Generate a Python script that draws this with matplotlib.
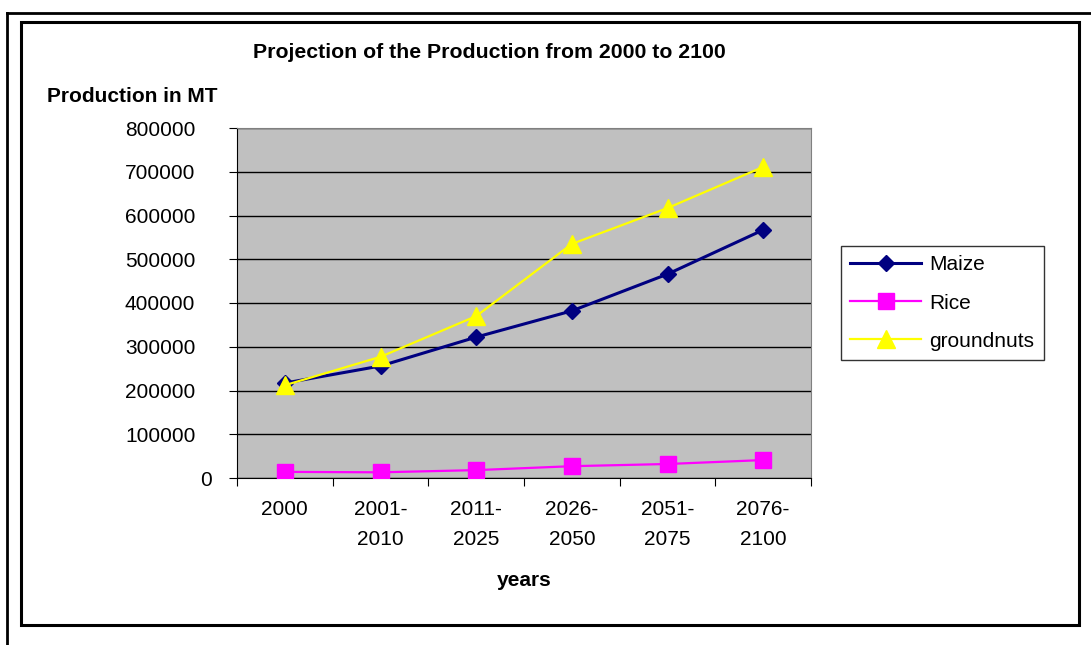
import matplotlib.pyplot as plt
import matplotlib.transforms as mtransforms
from matplotlib.lines import Line2D

plt.rcParams['font.family'] = ['Liberation Sans', 'DejaVu Sans']

categories = ["2000", "2001-\n2010", "2011-\n2025", "2026-\n2050", "2051-\n2075", "2076-\n2100"]
maize = [217000, 256000, 322000, 382000, 466000, 567000]
rice = [14000, 13000, 18000, 27000, 32000, 41000]
groundnuts = [212000, 277000, 370000, 535000, 617000, 711000]
y_ticks = [0, 100000, 200000, 300000, 400000, 500000, 600000, 700000, 800000]

W, H = 1091, 645
FS = 15
fig = plt.figure(figsize=(W / 100, H / 100), dpi=100)

# frames around the chart (outer partial frame + chart border)
fig.add_artist(Line2D([7 / W, 7 / W], [0, 1 - 13 / H], color='black', lw=2, transform=fig.transFigure))
fig.add_artist(Line2D([7 / W, 1], [1 - 13 / H, 1 - 13 / H], color='black', lw=2, transform=fig.transFigure))
fig.add_artist(plt.Rectangle((21 / W, 1 - 625 / H), (1079 - 21) / W, (625 - 22) / H,
                             fill=False, ec='black', lw=2.2, transform=fig.transFigure))

ax = fig.add_axes([237 / W, 1 - 478 / H, 574 / W, 350 / H])
ax.set_facecolor('#c0c0c0')
x = range(len(categories))

ax.plot(x, maize, color='#000080', lw=2.2, marker='D', ms=8.2, label='Maize', zorder=3)
ax.plot(x, rice, color='#ff00ff', lw=1.6, marker='s', ms=11, label='Rice', zorder=3)
ax.plot(x, groundnuts, color='#ffff00', lw=1.6, marker='^', ms=12.5, label='groundnuts', zorder=4)

ax.set_xlim(-0.5, len(categories) - 0.5)
ax.set_ylim(0, 800000)
ax.set_yticks(y_ticks)
ax.set_yticklabels([str(v) for v in y_ticks], fontsize=FS)
ax.yaxis.grid(True, color='black', lw=1)
ax.set_axisbelow(True)

ax.set_xticks([i - 0.5 for i in range(len(categories) + 1)])
ax.set_xticklabels([])
ax.set_xticks(list(x), minor=True)
ax.set_xticklabels(categories, minor=True, fontsize=FS, linespacing=1.75)
ax.tick_params(axis='x', which='minor', length=0, pad=16)
ax.tick_params(axis='x', which='major', length=6, direction='out')
ax.tick_params(axis='y', length=6, direction='out', pad=24)

# the "0" label sits closer to the axis in the original
zero_lbl = ax.get_yticklabels()[0]
zero_lbl.set_transform(zero_lbl.get_transform() +
                       mtransforms.ScaledTranslation(17 / 100, 0, fig.dpi_scale_trans))

for side in ['top', 'right']:
    ax.spines[side].set_color('#808080')
for side in ['left', 'bottom']:
    ax.spines[side].set_color('black')

fig.text(489 / W, 1 - 53 / H, 'Projection of the Production from 2000 to 2100',
         ha='center', va='center', fontsize=15.3, fontweight='bold')
fig.text(47 / W, 1 - 97 / H, 'Production in MT', ha='left', va='center',
         fontsize=FS, fontweight='bold')
fig.text(524 / W, 1 - 580 / H, 'years', ha='center', va='center',
         fontsize=FS, fontweight='bold')

leg = fig.legend(loc='upper left', bbox_to_anchor=(841 / W, 1 - 246 / H), fontsize=FS,
                 frameon=True, fancybox=False, edgecolor='black', handlelength=3.4,
                 labelspacing=0.92, borderpad=0.45, handletextpad=0.4, borderaxespad=0)
leg.get_frame().set_linewidth(1)

fig.savefig('out.png', dpi=100)
